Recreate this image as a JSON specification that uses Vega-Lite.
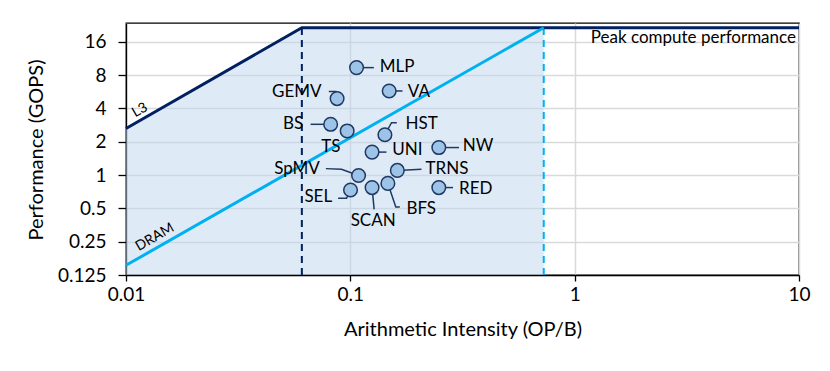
{
  "$schema": "https://vega.github.io/schema/vega-lite/v6.json",
  "width": 673,
  "height": 252,
  "autosize": {"type": "none"},
  "padding": {"left": 126, "top": 23, "right": 31, "bottom": 96},
  "background": "white",
  "config": {
    "font": "Lato",
    "view": {"stroke": "#000000", "strokeWidth": 1.3},
    "axis": {
      "domainColor": "#000000", "domainWidth": 1.3,
      "tickColor": "#000000", "tickWidth": 1.3,
      "gridColor": "#d9d9d9", "gridWidth": 1.5,
      "labelColor": "#000000", "titleColor": "#000000",
      "labelFont": "Lato", "titleFont": "Lato",
      "titleFontWeight": "normal"
    }
  },
  "datasets": {
    "roof": [
      {"mem": "L3", "ai": 0.01, "perf": 2.63},
      {"mem": "L3", "ai": 0.0608, "perf": 21.4},
      {"mem": "L3", "ai": 10, "perf": 21.4},
      {"mem": "DRAM", "ai": 0.01, "perf": 0.153},
      {"mem": "DRAM", "ai": 0.728, "perf": 21.4}
    ],
    "shade": [
      {"ai": 0.01, "perf": 2.63},
      {"ai": 0.0608, "perf": 21.4},
      {"ai": 0.728, "perf": 21.4}
    ],
    "ridge": [
      {"mem": "L3", "ai": 0.0608, "perf": 21.4, "base": 0.125},
      {"mem": "DRAM", "ai": 0.728, "perf": 21.4, "base": 0.125}
    ],
    "kernels": [
      {"name": "MLP", "ai": 0.1066, "perf": 9.33},
      {"name": "GEMV", "ai": 0.0873, "perf": 4.9},
      {"name": "VA", "ai": 0.149, "perf": 5.74},
      {"name": "BS", "ai": 0.0817, "perf": 2.87},
      {"name": "TS", "ai": 0.0968, "perf": 2.5},
      {"name": "HST", "ai": 0.1426, "perf": 2.31},
      {"name": "UNI", "ai": 0.125, "perf": 1.61},
      {"name": "NW", "ai": 0.248, "perf": 1.77},
      {"name": "TRNS", "ai": 0.162, "perf": 1.1},
      {"name": "SpMV", "ai": 0.1088, "perf": 0.99},
      {"name": "SEL", "ai": 0.1002, "perf": 0.732},
      {"name": "SCAN", "ai": 0.125, "perf": 0.77},
      {"name": "BFS", "ai": 0.147, "perf": 0.84},
      {"name": "RED", "ai": 0.248, "perf": 0.77}
    ],
    "leaders": [
      {"name": "MLP", "k": 1, "ai": 0.1066, "perf": 9.33},
      {"name": "MLP", "k": 2, "ai": 0.1273, "perf": 9.33},
      {"name": "GEMV", "k": 1, "ai": 0.0802, "perf": 5.67},
      {"name": "GEMV", "k": 2, "ai": 0.0862, "perf": 5.67},
      {"name": "GEMV", "k": 3, "ai": 0.0873, "perf": 4.9},
      {"name": "VA", "k": 1, "ai": 0.149, "perf": 5.74},
      {"name": "VA", "k": 2, "ai": 0.1708, "perf": 5.74},
      {"name": "BS", "k": 1, "ai": 0.0665, "perf": 2.87},
      {"name": "BS", "k": 2, "ai": 0.0817, "perf": 2.87},
      {"name": "HST", "k": 1, "ai": 0.1426, "perf": 2.31},
      {"name": "HST", "k": 2, "ai": 0.1526, "perf": 2.97},
      {"name": "HST", "k": 3, "ai": 0.1611, "perf": 2.97},
      {"name": "UNI", "k": 1, "ai": 0.125, "perf": 1.61},
      {"name": "UNI", "k": 2, "ai": 0.1449, "perf": 1.61},
      {"name": "NW", "k": 1, "ai": 0.248, "perf": 1.77},
      {"name": "NW", "k": 2, "ai": 0.3052, "perf": 1.77},
      {"name": "TRNS", "k": 1, "ai": 0.162, "perf": 1.1},
      {"name": "TRNS", "k": 2, "ai": 0.2075, "perf": 1.13},
      {"name": "SpMV", "k": 1, "ai": 0.0778, "perf": 1.142},
      {"name": "SpMV", "k": 2, "ai": 0.0913, "perf": 1.126},
      {"name": "SpMV", "k": 3, "ai": 0.1088, "perf": 0.99},
      {"name": "SEL", "k": 1, "ai": 0.0882, "perf": 0.616},
      {"name": "SEL", "k": 2, "ai": 0.0962, "perf": 0.616},
      {"name": "SEL", "k": 3, "ai": 0.1002, "perf": 0.732},
      {"name": "SCAN", "k": 1, "ai": 0.125, "perf": 0.77},
      {"name": "SCAN", "k": 2, "ai": 0.1277, "perf": 0.49},
      {"name": "BFS", "k": 1, "ai": 0.147, "perf": 0.84},
      {"name": "BFS", "k": 2, "ai": 0.1595, "perf": 0.514},
      {"name": "BFS", "k": 3, "ai": 0.1662, "perf": 0.514},
      {"name": "RED", "k": 1, "ai": 0.248, "perf": 0.77},
      {"name": "RED", "k": 2, "ai": 0.287, "perf": 0.77}
    ],
    "labels": [
      {"name": "MLP", "side": "right", "ai": 0.1353, "perf": 9.4},
      {"name": "GEMV", "side": "left", "ai": 0.0744, "perf": 5.64},
      {"name": "VA", "side": "right", "ai": 0.1804, "perf": 5.64},
      {"name": "BS", "side": "left", "ai": 0.0616, "perf": 2.87},
      {"name": "TS", "side": "center", "ai": 0.0819, "perf": 1.78},
      {"name": "HST", "side": "right", "ai": 0.1761, "perf": 2.87},
      {"name": "UNI", "side": "right", "ai": 0.1536, "perf": 1.665},
      {"name": "NW", "side": "right", "ai": 0.317, "perf": 1.83},
      {"name": "TRNS", "side": "right", "ai": 0.2163, "perf": 1.133},
      {"name": "SpMV", "side": "left", "ai": 0.0731, "perf": 1.138},
      {"name": "SEL", "side": "left", "ai": 0.083, "perf": 0.632},
      {"name": "SCAN", "side": "center", "ai": 0.1264, "perf": 0.384},
      {"name": "BFS", "side": "right", "ai": 0.1779, "perf": 0.49},
      {"name": "RED", "side": "right", "ai": 0.3052, "perf": 0.747}
    ],
    "roofLabels": [
      {"text": "L3", "ai": 0.01154, "perf": 3.84},
      {"text": "DRAM", "ai": 0.01346, "perf": 0.274}
    ],
    "peakLabel": [
      {"text": "Peak compute performance", "ai": 10, "perf": 17.2}
    ]
  },
  "encoding": {
    "x": {
      "field": "ai", "type": "quantitative",
      "scale": {"type": "log", "base": 10, "domain": [0.01, 10], "nice": false},
      "axis": {
        "values": [0.01, 0.1, 1, 10],
        "labelExpr": "'' + datum.value",
        "labelFontSize": 19, "labelPadding": 4, "tickSize": 6,
        "labelFlush": false,
        "title": "Arithmetic Intensity (OP/B)",
        "titleFontSize": 20, "titleBaseline": "alphabetic", "titleY": 60
      }
    },
    "y": {
      "field": "perf", "type": "quantitative",
      "scale": {"type": "log", "base": 2, "domain": [0.125, 23.6], "nice": false},
      "axis": {
        "values": [0.125, 0.25, 0.5, 1, 2, 4, 8, 16],
        "labelExpr": "'' + datum.value",
        "labelFontSize": 19, "labelPadding": 12, "tickSize": 8,
        "labelFlush": false,
        "title": "Performance (GOPS)",
        "titleFontSize": 20, "titleAngle": -90, "titleBaseline": "alphabetic",
        "titleAlign": "center", "titleX": -83.5, "titleY": 126.5
      }
    }
  },
  "layer": [
    {
      "data": {"name": "shade"},
      "mark": {"type": "area", "color": "#bdd7ee", "opacity": 0.5, "interpolate": "linear"},
      "encoding": {"y2": {"datum": 0.125}}
    },
    {
      "data": {"name": "ridge"},
      "mark": {"type": "rule", "strokeWidth": 2, "strokeDash": [7, 5]},
      "encoding": {
        "y": {"field": "base", "type": "quantitative"},
        "y2": {"field": "perf"},
        "color": {"field": "mem", "type": "nominal", "scale": {"domain": ["L3", "DRAM"], "range": ["#002060", "#00b0f0"]}, "legend": null}
      }
    },
    {
      "data": {"name": "roof"},
      "mark": {"type": "line", "strokeWidth": 3},
      "encoding": {
        "color": {"field": "mem", "type": "nominal", "scale": {"domain": ["L3", "DRAM"], "range": ["#002060", "#00b0f0"]}, "legend": null},
        "order": {"field": "ai", "type": "quantitative"}
      }
    },
    {
      "data": {"name": "leaders"},
      "mark": {"type": "line", "color": "#1f3864", "strokeWidth": 1.5},
      "encoding": {
        "detail": {"field": "name", "type": "nominal"},
        "order": {"field": "k", "type": "quantitative"}
      }
    },
    {
      "data": {"name": "kernels"},
      "mark": {"type": "point", "shape": "circle", "filled": true, "size": 185, "fill": "#9dc3e6", "stroke": "#1f3864", "strokeWidth": 1.5, "opacity": 1, "fillOpacity": 1}
    },
    {
      "data": {"name": "labels"},
      "transform": [{"filter": "datum.side == 'right'"}],
      "mark": {"type": "text", "align": "left", "baseline": "middle", "fontSize": 17, "color": "#000000"},
      "encoding": {"text": {"field": "name"}}
    },
    {
      "data": {"name": "labels"},
      "transform": [{"filter": "datum.side == 'left'"}],
      "mark": {"type": "text", "align": "right", "baseline": "middle", "fontSize": 17, "color": "#000000"},
      "encoding": {"text": {"field": "name"}}
    },
    {
      "data": {"name": "labels"},
      "transform": [{"filter": "datum.side == 'center'"}],
      "mark": {"type": "text", "align": "center", "baseline": "middle", "fontSize": 17, "color": "#000000"},
      "encoding": {"text": {"field": "name"}}
    },
    {
      "data": {"name": "roofLabels"},
      "mark": {"type": "text", "align": "center", "baseline": "middle", "fontSize": 14, "angle": -30, "color": "#000000"},
      "encoding": {"text": {"field": "text"}}
    },
    {
      "data": {"name": "peakLabel"},
      "mark": {"type": "text", "align": "right", "baseline": "middle", "fontSize": 17, "dx": -3, "color": "#000000"},
      "encoding": {"text": {"field": "text"}}
    }
  ]
}
